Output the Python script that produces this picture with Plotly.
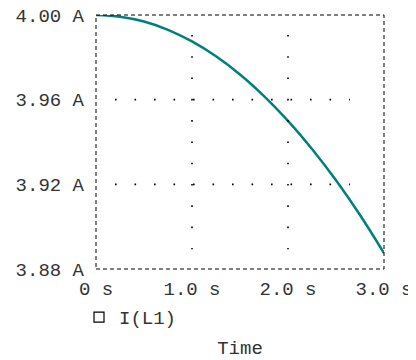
import plotly.graph_objects as go

# Data
time_s = [0.0, 0.25, 0.5, 0.75, 1.0, 1.25, 1.5, 1.75, 2.0, 2.25, 2.5, 2.75, 3.0]
current_A = [4.0000, 3.9992, 3.9969, 3.9930, 3.9875, 3.9805, 3.9719, 3.9617,
             3.9500, 3.9367, 3.9219, 3.9055, 3.8875]
series_name = "I(L1)"

x_tickvals = [0, 1, 2, 3]
x_ticktext = ["0 s", "1.0 s", "2.0 s", "3.0 s"]
y_tickvals = [3.88, 3.92, 3.96, 4.00]
y_ticktext = ["3.88 A", "3.92 A", "3.96 A", "4.00 A"]
x_grid = [1, 2]
y_grid = [3.92, 3.96]

FONT = "Courier New, Liberation Mono, monospace"
FS = 19

fig = go.Figure()
fig.add_trace(go.Scatter(x=time_s, y=current_A, mode="lines", line_shape="spline",
                         line=dict(color="rgb(0,128,124)", width=2.5),
                         showlegend=False, hoverinfo="skip"))
fig.add_trace(go.Scatter(x=[None], y=[None], mode="markers", name=series_name,
                         marker=dict(symbol="square-open", color="black", size=10,
                                     line=dict(width=1.2))))

shapes = []
for xv in x_grid:
    shapes.append(dict(type="line", xref="x", yref="y", x0=xv, x1=xv,
                       y0=3.9906, y1=3.8893,
                       line=dict(color="black", width=1.6, dash="1.6px,19.7px")))
for yv in y_grid:
    shapes.append(dict(type="line", xref="x", yref="y", y0=yv, y1=yv,
                       x0=0.198, x1=2.645,
                       line=dict(color="black", width=1.6, dash="1.6px,17.9px")))
shapes.append(dict(type="rect", xref="paper", yref="paper", x0=0, x1=1, y0=0, y1=1,
                   line=dict(color="black", width=1, dash="4px,3px"), layer="above"))

fig.update_layout(
    width=408, height=352,
    margin=dict(l=88, r=32, t=7, b=91),
    paper_bgcolor="white", plot_bgcolor="white",
    font=dict(family=FONT, size=FS, color="#333"),
    shapes=shapes,
    showlegend=True,
    legend=dict(x=-0.059, y=-0.115, xanchor="left", yanchor="top", bgcolor="rgba(0,0,0,0)",
                font=dict(family=FONT, size=FS, color="#333"), itemwidth=30),
    xaxis=dict(range=[0, 3], tickvals=x_tickvals, ticktext=x_ticktext, showgrid=False,
               zeroline=False, showline=False, ticks="", ticklen=0, automargin=False,
               ticklabelstandoff=6, ticklabeloverflow="allow",
               title=dict(text="Time", standoff=50, font=dict(family=FONT, size=FS))),
    yaxis=dict(range=[3.88, 4.00], tickvals=y_tickvals, ticktext=y_ticktext,
               showgrid=False, zeroline=False, showline=False, ticks="", ticklen=0,
               automargin=False, ticklabelstandoff=11, ticklabeloverflow="allow"),
)

fig.write_html("out.html")
